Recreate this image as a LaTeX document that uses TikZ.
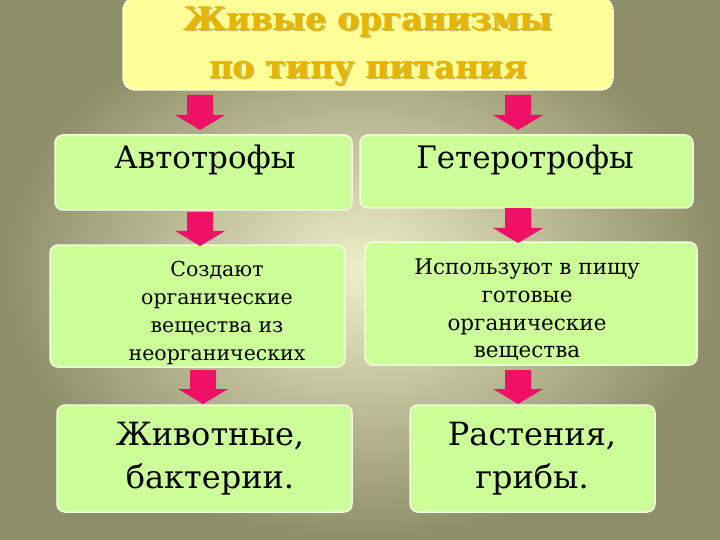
\documentclass[tikz,border=0pt]{standalone}
\usepackage{fontspec}
\setmainfont{DejaVu Serif}
\definecolor{bgin}{HTML}{EEEEC8}
\definecolor{bgout}{HTML}{8E8E68}
\definecolor{boxg}{HTML}{CCFF99}
\definecolor{ttl}{HTML}{FFFF99}
\definecolor{ttltext}{HTML}{E8B400}
\definecolor{arr}{HTML}{EE1166}
\tikzset{
  gbox/.style={fill=boxg, draw=white!70!boxg, line width=1.5pt, rounded corners=8pt},
  txt/.style={align=center, font=\fontsize{20.5}{27.7}\selectfont, text=black},
  big/.style={align=center, font=\fontsize{31}{43}\selectfont, text=black},
}
\newcommand{\dnarrow}[3]{% x, ytop, ybottom
  \fill[arr] ({#1-13},-#2) -- ({#1+13},-#2) -- ({#1+13},{-(#3-15)}) -- ({#1+25},{-(#3-15)}) -- (#1,-#3) -- ({#1-25},{-(#3-15)}) -- ({#1-13},{-(#3-15)}) -- cycle;}
\begin{document}
\begin{tikzpicture}[x=1pt,y=1pt]
\shade[inner color=bgin, outer color=bgout] (0,0) rectangle (720,-540);
\useasboundingbox (0,0) rectangle (720,-540);
% title
\path[fill=ttl, draw=white!60!ttl, line width=1.5pt, rounded corners=12pt] (123,2) rectangle (613,-90);
\node[align=center, font=\bfseries\fontsize{32.5}{48}\selectfont, text=black!40!ttltext, opacity=0.45] at (369.5,-47.5) {Живые организмы\\по типу питания};
\node (title) [align=center, font=\bfseries\fontsize{32.5}{48}\selectfont, text=ttltext] at (368,-46) {Живые организмы\\по типу питания};
% row1
\path[gbox] (55,-135) rectangle (352,-210);
\path[gbox] (360,-135) rectangle (693,-208);
\node (a1) [big] at (205,-160) {Автотрофы};
\node (h1) [big] at (525,-160) {Гетеротрофы};
% row2
\path[gbox] (50,-245) rectangle (345,-367);
\path[gbox] (365,-242) rectangle (697,-365);
\node (a2) [txt] at (217,-313) {Создают\\органические\\вещества из\\неорганических};
\node (h2) [txt, font=\fontsize{21.5}{27.7}\selectfont] at (527,-310) {Используют в пищу\\готовые\\органические\\вещества};
% row3
\path[gbox] (57,-405) rectangle (352,-512);
\path[gbox] (410,-405) rectangle (655,-512);
\node (a3) [big, font=\fontsize{32}{43}\selectfont] at (210,-459) {Животные,\\бактерии.};
\node (h3) [big, font=\fontsize{32}{43}\selectfont] at (532,-459) {Растения,\\грибы.};
% arrows
\dnarrow{200}{95}{130}
\dnarrow{518}{95}{130}
\dnarrow{200}{212}{246}
\dnarrow{518}{208}{243}
\dnarrow{203}{370}{404}
\dnarrow{518}{370}{404}
\end{tikzpicture}
\end{document}
